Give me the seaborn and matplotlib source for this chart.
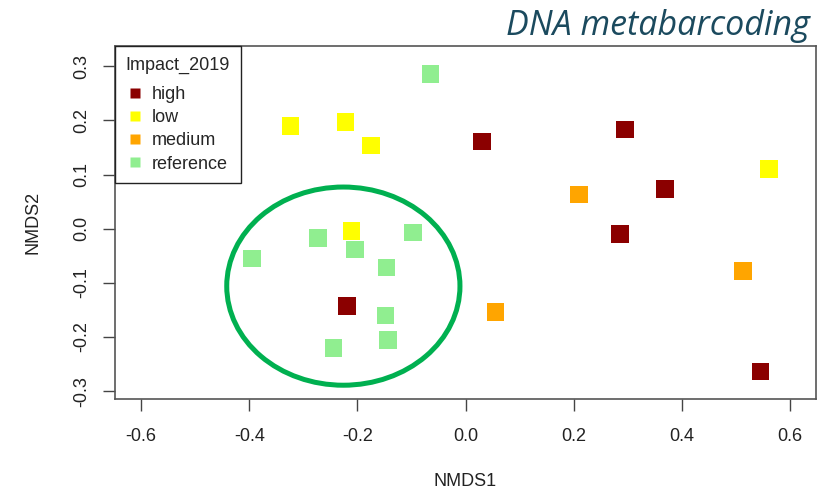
import matplotlib
matplotlib.use("Agg")
import matplotlib.pyplot as plt
from matplotlib.patches import Ellipse
from matplotlib.lines import Line2D
import seaborn as sns
import pandas as pd

# NMDS site scores, grouped by impact class
impact = (["high"] * 6 + ["low"] * 5 + ["medium"] * 3 + ["reference"] * 9)
nmds1 = [0.030, 0.295, 0.368, 0.285, -0.219, 0.545,
         -0.324, -0.222, -0.175, -0.211, 0.561,
         0.210, 0.055, 0.513,
         -0.065, -0.273, -0.097, -0.395, -0.204, -0.146, -0.148, -0.144, -0.244]
nmds2 = [0.161, 0.183, 0.073, -0.010, -0.143, -0.264,
         0.190, 0.197, 0.154, -0.004, 0.110,
         0.063, -0.154, -0.078,
         0.286, -0.017, -0.007, -0.055, -0.038, -0.072, -0.160, -0.206, -0.220]
levels = ["high", "low", "medium", "reference"]
colors = ["#8B0000", "#FFFF00", "#FFA500", "#90EE90"]
x_ticks = [-0.6, -0.4, -0.2, 0.0, 0.2, 0.4, 0.6]
y_ticks = [-0.3, -0.2, -0.1, 0.0, 0.1, 0.2, 0.3]

df = pd.DataFrame({"NMDS1": nmds1, "NMDS2": nmds2, "Impact_2019": impact})
palette = dict(zip(levels, colors))

sns.set_style("white")
plt.rcParams["font.family"] = ["Liberation Sans", "DejaVu Sans"]

fig = plt.figure(figsize=(8.25, 4.9), dpi=100)
ax = fig.add_axes([115 / 825, 1 - 399.3 / 490, (816 - 115) / 825, (399.3 - 45.7) / 490])

sns.scatterplot(data=df, x="NMDS1", y="NMDS2", hue="Impact_2019",
                hue_order=levels, palette=palette, marker="s", s=160,
                edgecolor="none", linewidth=0, legend=False, ax=ax, zorder=3)

ax.set_xlim(-0.648, 0.6475)
ax.set_ylim(-0.315, 0.338)
ax.set_xticks(x_ticks)
ax.set_xticklabels([f"{v:.1f}" for v in x_ticks])
ax.set_yticks(y_ticks)
ax.set_yticklabels([f"{v:.1f}" for v in y_ticks], rotation=90, va="center")
ax.tick_params(axis="both", direction="out", length=8.5, width=1.0,
               color="#444444", labelsize=13, labelcolor="#222222",
               bottom=True, left=True)
ax.tick_params(axis="x", pad=12)
ax.tick_params(axis="y", pad=9)
for sp in ax.spines.values():
    sp.set_color("#555555")
    sp.set_linewidth(1.2)
ax.set_xlabel("NMDS1", fontsize=13, color="#222222", labelpad=20)
ax.set_ylabel("NMDS2", fontsize=13, color="#222222", labelpad=23)

# highlight around the reference cluster
ax.add_patch(Ellipse((-0.226, -0.106), 0.431, 0.366, fill=False,
                     edgecolor="#00B050", linewidth=3.6, zorder=4))

handles = [Line2D([], [], marker="s", linestyle="none", markersize=7,
                  markerfacecolor=c, markeredgecolor="none") for c in colors]
leg = ax.legend(handles, levels, title="Impact_2019", loc="upper left",
                bbox_to_anchor=(0, 1), borderaxespad=0, fancybox=False,
                framealpha=1, edgecolor="#222222", fontsize=13,
                title_fontsize=13, handletextpad=0.45, labelspacing=0.34,
                borderpad=0.6, handlelength=1.0)
leg.get_frame().set_linewidth(1.0)
leg._legend_box.align = "left"
leg._legend_box.sep = 9
leg.set_zorder(5)

fig.text(810 / 825, 1 - 35 / 490, "DNA metabarcoding", ha="right", va="baseline",
         fontsize=24.5, style="italic", color="#1B4A5E", family="Open Sans")

fig.savefig("out.png", dpi=100, facecolor="white")
